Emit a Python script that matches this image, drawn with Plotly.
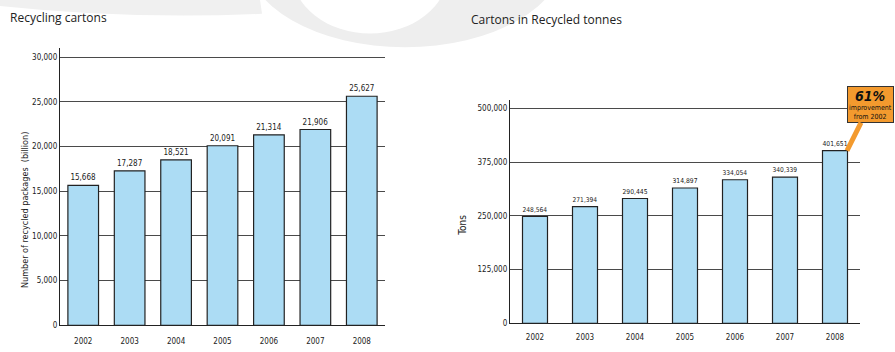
import plotly.graph_objects as go

years = ["2002", "2003", "2004", "2005", "2006", "2007", "2008"]
packages = [15668, 17287, 18521, 20091, 21314, 21906, 25627]
packages_labels = ["15,668", "17,287", "18,521", "20,091", "21,314", "21,906", "25,627"]
tonnes = [248564, 271394, 290445, 314897, 334054, 340339, 401651]
tonnes_labels = ["248,564", "271,394", "290,445", "314,897", "334,054", "340,339", "401,651"]
left_ticks = [0, 5000, 10000, 15000, 20000, 25000, 30000]
left_tick_text = ["0", "5,000", "10,000", "15,000", "20,000", "25,000", "30,000"]
right_ticks = [0, 125000, 250000, 375000, 500000]
right_tick_text = ["0", "125,000", "250,000", "375,000", "500,000"]

W, H = 895, 352
BAR = "#acdcf4"
GRID = "#4a4a4a"
TXT = "#222222"
HAND = "DejaVu Sans Condensed, Liberation Sans Narrow, sans-serif"
TITLE_FONT = "Open Sans, Noto Sans, sans-serif"

def px(x):
    return x / W

def py(y):
    return 1 - y / H

fig = go.Figure()

fig.add_trace(go.Bar(
    x=years, y=packages, text=packages_labels, textposition="outside",
    textfont=dict(size=8, color=TXT, family=HAND), cliponaxis=False,
    marker=dict(color=BAR, line=dict(color="#222", width=1.2)),
    width=0.66, xaxis="x", yaxis="y", showlegend=False,
))
fig.add_trace(go.Bar(
    x=years, y=tonnes, text=tonnes_labels, textposition="outside",
    textfont=dict(size=8, color=TXT, family=HAND), cliponaxis=False,
    marker=dict(color=BAR, line=dict(color="#222", width=1.2)),
    width=0.5, xaxis="x2", yaxis="y2", showlegend=False,
))

# left: 0 at y=330, 30000 at y=58
l_scale = (330 - 58) / 30000
l_top = 31000
# right: 0 at y=328, 500000 at y=110
r_scale = (328 - 110) / 500000
r_top = 520000
n = len(years)

def xax(domain, anchor, standoff):
    return dict(type="category", domain=domain, anchor=anchor, range=[-0.5, n - 0.5],
                showgrid=False, zeroline=False,
                showline=True, linecolor="#222", linewidth=1.3, ticks="",
                tickfont=dict(size=8, color=TXT, family=HAND), ticklabelstandoff=standoff,
                fixedrange=True)

def yax(domain, anchor, top, vals, texts):
    return dict(domain=domain, anchor=anchor, range=[0, top], tickvals=vals, ticktext=texts,
                showgrid=True, gridcolor=GRID, gridwidth=1.3, zeroline=False,
                showline=True, linecolor="#222", linewidth=1.3, ticks="",
                tickfont=dict(size=8, color=TXT, family=HAND), fixedrange=True)

fig.update_layout(
    width=W, height=H, margin=dict(l=0, r=0, t=0, b=0),
    paper_bgcolor="white", plot_bgcolor="rgba(0,0,0,0)",
    xaxis=xax([px(60), px(385)], "y", 8),
    yaxis=yax([py(330), py(330 - l_top * l_scale)], "x", l_top, left_ticks, left_tick_text),
    xaxis2=xax([px(510), px(860)], "y2", 6),
    yaxis2=yax([py(328), py(328 - r_top * r_scale)], "x2", r_top, right_ticks, right_tick_text),
)

# faint watermark swirl in the background
fig.add_shape(type="circle", xref="paper", yref="paper", layer="below",
              x0=px(245), x1=px(565), y0=py(48), y1=py(-140),
              fillcolor="#eeeeee", line=dict(width=0))
fig.add_shape(type="circle", xref="paper", yref="paper", layer="below",
              x0=px(292), x1=px(448), y0=py(34), y1=py(-90),
              fillcolor="white", line=dict(width=0))
fig.add_shape(type="path", xref="paper", yref="paper", layer="below",
              path=f"M {px(0)} {py(0)} L {px(260)} {py(0)} L {px(262)} {py(14)} Q {px(130)} {py(20)} {px(0)} {py(6)} Z",
              fillcolor="#f0f0f0", line=dict(width=0))

fig.add_annotation(x=px(8), y=py(18), xref="paper", yref="paper", xanchor="left", yanchor="middle",
                   text="Recycling cartons", showarrow=False, font=dict(size=12, color=TXT, family=TITLE_FONT))
fig.add_annotation(x=px(469), y=py(20), xref="paper", yref="paper", xanchor="left", yanchor="middle",
                   text="Cartons in Recycled tonnes", showarrow=False, font=dict(size=12, color=TXT, family=TITLE_FONT))
fig.add_annotation(x=px(18), y=py(213), xref="paper", yref="paper", textangle=-90,
                   text="Number of recycled packages  (billion)", showarrow=False,
                   font=dict(size=9, color=TXT, family=HAND))
fig.add_annotation(x=px(463), y=py(228), xref="paper", yref="paper", textangle=-90,
                   text="Tons", showarrow=False, font=dict(size=10, color=TXT, family=HAND))

# callout bubble pointing at the 2008 bar
fig.add_annotation(
    x=years.index("2008"), y=tonnes[-1], xref="x2", yref="y2", xshift=12,
    ax=23, ay=-46, axref="pixel", ayref="pixel",
    text="<span style='font-size:14px'><b><i>61%</i></b></span><br>improvement<br>from 2002",
    showarrow=True, arrowhead=0, arrowwidth=5, arrowcolor="#f39a2e",
    bgcolor="#f39a2e", bordercolor="#333", borderwidth=1, borderpad=1,
    font=dict(size=7, color="#111", family=HAND), align="center",
)

fig.write_html("out.html")
